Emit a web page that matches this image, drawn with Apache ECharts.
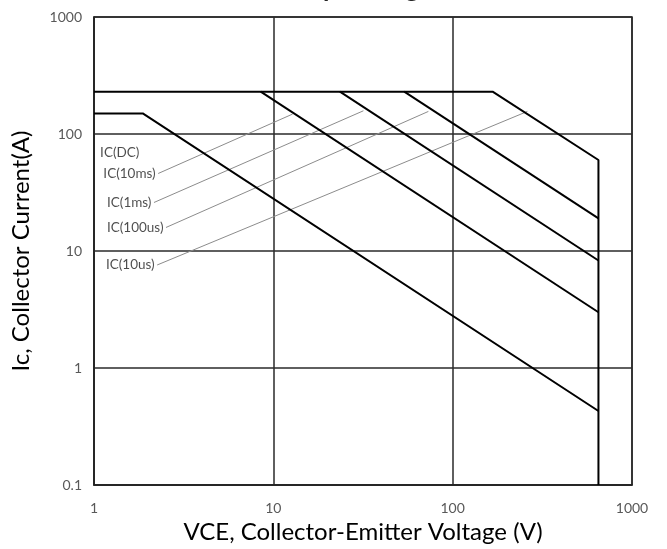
<!DOCTYPE html>
<html>
<head>
<meta charset="utf-8">
<script src="https://cdn.jsdelivr.net/npm/echarts@6/dist/echarts.min.js"></script>
<style>
html,body{margin:0;padding:0;background:#fff;}
#c{width:667px;height:549px;}
</style>
</head>
<body>
<div id="c"></div>
<script>
// ---- data ----
var titleText = 'Safe Operating Area';
var xTickLabels = ['1', '10', '100', '1000'];
var yTickLabels = ['0.1', '1', '10', '100', '1000'];
var xName = 'VCE, Collector-Emitter Voltage (V)';
var yName = 'Ic, Collector Current(A)';

// SOA boundary curves: [VCE (V), IC (A)]
var curveDC    = [[1, 150], [1.87, 150], [650, 0.43]];
var curve10ms  = [[8.5, 230], [650, 3.0]];
var curve1ms   = [[23.5, 230], [650, 8.3]];
var curve100us = [[53.7, 230], [650, 19]];
var curve10us  = [[1, 230], [167, 230], [650, 60], [650, 0.1]];

// callout labels and leader lines
var labelNames = ['IC(DC)', 'IC(10ms)', 'IC(1ms)', 'IC(100us)', 'IC(10us)'];
var labelStart = [[1.85, 69], [2.28, 46], [2.16, 26], [2.52, 15.9], [2.25, 7.6]];
var labelEnd   = [null, [12.8, 148], [31.8, 158], [73.2, 156], [261, 156]];

// ---- chart ----
var chart = echarts.init(document.getElementById('c'), null, {renderer: 'canvas'});
var FONT = 'Lato, "Open Sans", sans-serif';

function curveSeries(name, data) {
  return {
    name: name, type: 'line', data: data, symbol: 'none', silent: true,
    lineStyle: {color: '#000', width: 2}, z: 5
  };
}

var series = [
  curveSeries('DC', curveDC),
  curveSeries('10ms', curve10ms),
  curveSeries('1ms', curve1ms),
  curveSeries('100us', curve100us),
  curveSeries('10us', curve10us)
];

labelNames.forEach(function (nm, i) {
  var pts = [labelStart[i]];
  if (labelEnd[i]) pts.push(labelEnd[i]);
  series.push({
    name: nm, type: 'line', data: pts, silent: true,
    lineStyle: {color: '#8c8c8c', width: 1}, z: 3
  });
  series.push({
    name: nm + ' label', type: 'scatter', data: [labelStart[i]], silent: true,
    symbolSize: 1, itemStyle: {color: 'rgba(0,0,0,0)'}, z: 6,
    label: {
      show: true, position: 'left', distance: 2, formatter: nm,
      color: '#1f1f1f', fontFamily: FONT, fontSize: 13.5
    }
  });
});
series.forEach(function (s) { if (s.type === 'line') { s.symbol = 'none'; } });

function logIdx(v) { return Math.round(Math.log(v) / Math.LN10); }

var option = {
  animation: false,
  backgroundColor: '#fff',
  graphic: [{
    type: 'text', z: 10,
    x: 363, y: 2,
    style: {
      text: titleText, x: 0, y: 0, textAlign: 'center', textVerticalAlign: 'bottom',
      font: 'bold 26px ' + FONT, fill: '#262626'
    }
  }],
  grid: {
    left: 94, right: 35, top: 17, bottom: 62,
    show: true, borderColor: '#222', borderWidth: 1.5
  },
  xAxis: {
    type: 'log', logBase: 10, min: 1, max: 1000,
    name: xName, nameLocation: 'middle', nameGap: 31,
    nameTextStyle: {fontFamily: FONT, fontSize: 24, color: '#000'},
    axisLine: {show: true, lineStyle: {color: '#222', width: 1.5}},
    axisTick: {show: false},
    axisLabel: {
      margin: 16, color: '#595959', fontFamily: FONT, fontSize: 14,
      formatter: function (v) { return xTickLabels[logIdx(v)]; }
    },
    splitLine: {show: true, lineStyle: {color: '#2a2a2a', width: 1.5}},
    minorTick: {show: false}, minorSplitLine: {show: false}
  },
  yAxis: {
    type: 'log', logBase: 10, min: 0.1, max: 1000,
    name: yName, nameLocation: 'middle', nameGap: 61, nameRotate: 90,
    nameTextStyle: {fontFamily: FONT, fontSize: 24, color: '#000'},
    axisLine: {show: true, lineStyle: {color: '#222', width: 1.5}},
    axisTick: {show: false},
    axisLabel: {
      margin: 12, color: '#595959', fontFamily: FONT, fontSize: 14,
      formatter: function (v) { return yTickLabels[logIdx(v) + 1]; }
    },
    splitLine: {show: true, lineStyle: {color: '#2a2a2a', width: 1.5}},
    minorTick: {show: false}, minorSplitLine: {show: false}
  },
  series: series
};
chart.setOption(option);
</script>
</body>
</html>
